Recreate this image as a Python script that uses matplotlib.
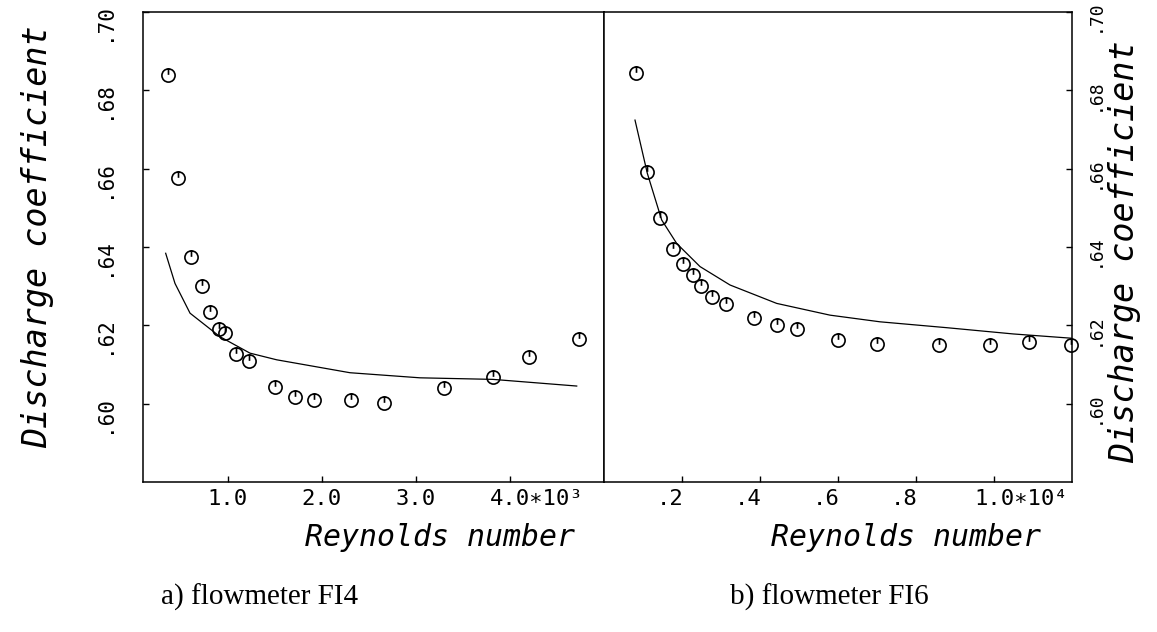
import matplotlib
matplotlib.use("Agg")
import matplotlib.pyplot as plt
from matplotlib.path import Path
from matplotlib.transforms import ScaledTranslation

# flowmeter FI4: measured points and fitted curve
fi4_re = [369, 469, 607, 727, 815, 905, 975, 1088, 1227, 1500, 1719, 1918,
          2311, 2665, 3299, 3823, 4206, 4731]
fi4_cd = [0.6839, 0.6575, 0.6374, 0.6300, 0.6235, 0.6190, 0.6181, 0.6127,
          0.6109, 0.6043, 0.6018, 0.6009, 0.6009, 0.6001, 0.6039, 0.6067,
          0.6120, 0.6165]
fi4_fit_re = [341, 440, 600, 918, 1237, 1521, 2300, 3044, 3820, 4710]
fi4_fit_cd = [0.6384, 0.6307, 0.6231, 0.6171, 0.6129, 0.6112, 0.6079,
              0.6066, 0.6062, 0.6045]

# flowmeter FI6
fi6_re = [820, 1111, 1444, 1761, 2034, 2274, 2487, 2761, 3128, 3854, 4444,
          4957, 6008, 6992, 8582, 9897, 10897, 11980]
fi6_cd = [0.6843, 0.6592, 0.6473, 0.6394, 0.6356, 0.6328, 0.6301, 0.6273,
          0.6254, 0.6218, 0.6201, 0.6190, 0.6163, 0.6152, 0.6150, 0.6150,
          0.6158, 0.6150]
fi6_fit_re = [795, 1111, 1479, 1864, 2462, 3231, 4428, 5795, 7077, 8787,
              10495, 12000]
fi6_fit_cd = [0.6724, 0.6588, 0.6469, 0.6409, 0.6350, 0.6303, 0.6256,
              0.6226, 0.6209, 0.6194, 0.6178, 0.6167]

cd_ticks = [0.60, 0.62, 0.64, 0.66, 0.68, 0.70]
cd_labels = [".60", ".62", ".64", ".66", ".68", ".70"]
fi4_xticks = [1000, 2000, 3000, 4000]
fi4_xlabels = ["1.0", "2.0", "3.0", "4.0\u221710\u00b3"]
fi6_xticks = [2000, 4000, 6000, 8000, 10000]
fi6_xlabels = [".2", ".4", ".6", ".8", "1.0\u221710\u2074"]

W, H = 1157, 632
fig = plt.figure(figsize=(W / 100, H / 100), dpi=100)

mono = ["DejaVu Sans Mono", "DejaVu Sans"]

# open circle with a short stem from the top, like the plotter symbol
stem = Path([(0, 1), (0, 0.1)], [Path.MOVETO, Path.LINETO])
symbol = Path.make_compound_path(Path.unit_circle(), stem)


def box(x0, x1, y0, y1):
    return [x0 / W, 1 - y1 / H, (x1 - x0) / W, (y1 - y0) / H]


ax1 = fig.add_axes(box(143, 604, 12, 482))
ax2 = fig.add_axes(box(604, 1072, 12, 482))

for ax, re, cd, fre, fcd in [(ax1, fi4_re, fi4_cd, fi4_fit_re, fi4_fit_cd),
                             (ax2, fi6_re, fi6_cd, fi6_fit_re, fi6_fit_cd)]:
    ax.plot(fre, fcd, color="black", lw=0.9)
    ax.plot(re, cd, ls="none", marker=symbol, ms=9.5, mfc="none", mec="black",
            mew=1.2, clip_on=False)
    ax.set_ylim(0.58, 0.70)
    for s in ax.spines.values():
        s.set_linewidth(1.1)
    ax.tick_params(direction="in", length=4, width=1.0, colors="black")

ax1.set_xlim(100, 5000)
ax2.set_xlim(0, 12000)

ax1.set_xticks(fi4_xticks, fi4_xlabels, fontfamily=mono, fontsize=16)
ax2.set_xticks(fi6_xticks, fi6_xlabels, fontfamily=mono, fontsize=16)
ax1.tick_params(axis="x", pad=5)
ax2.tick_params(axis="x", pad=5)

ax1.set_yticks(cd_ticks, cd_labels, fontfamily=mono, fontsize=15, rotation=90)
ax1.tick_params(axis="y", left=True, right=False, pad=21)

ax2.yaxis.tick_right()
ax2.set_yticks(cd_ticks, cd_labels, fontfamily=mono, fontsize=13, rotation=90)
ax2.tick_params(axis="y", left=False, right=True, labelleft=False,
                labelright=True, pad=10)

# nudge labels the way the plotter laid them out
px = 1 / 100


def shift(lab, dx, dy):
    lab.set_transform(lab.get_transform() +
                      ScaledTranslation(dx * px, dy * px, fig.dpi_scale_trans))


fi6_labs = ax2.get_xticklabels()
for lab in ax1.get_xticklabels() + fi6_labs:
    text = lab.get_text()
    if "\u2217" in text:
        shift(lab, 27, 0)
    elif lab in fi6_labs and text.startswith("."):
        shift(lab, -12, 0)
for lab in ax1.get_yticklabels():
    lab.set_verticalalignment("center")
    shift(lab, 0, -10)
for lab in ax2.get_yticklabels():
    lab.set_verticalalignment("center")
    shift(lab, 0, -4)

lab_style = dict(family=mono, style="oblique", ha="center", va="center")
fig.text(440 / W, 1 - 538 / H, "Reynolds number", fontsize=21.5, **lab_style)
fig.text(906 / W, 1 - 538 / H, "Reynolds number", fontsize=21.5, **lab_style)
fig.text(38 / W, 1 - 237 / H, "Discharge coefficient", fontsize=24,
         rotation=90, **lab_style)
fig.text(1125 / W, 1 - 252 / H, "Discharge coefficient", fontsize=24,
         rotation=90, **lab_style)

cap_style = dict(family="Liberation Serif", fontsize=21, ha="center",
                 va="center")
fig.text(260 / W, 1 - 597 / H, "a) flowmeter FI4", **cap_style)
fig.text(829 / W, 1 - 597 / H, "b) flowmeter FI6", **cap_style)

fig.savefig("out.png", dpi=100)
